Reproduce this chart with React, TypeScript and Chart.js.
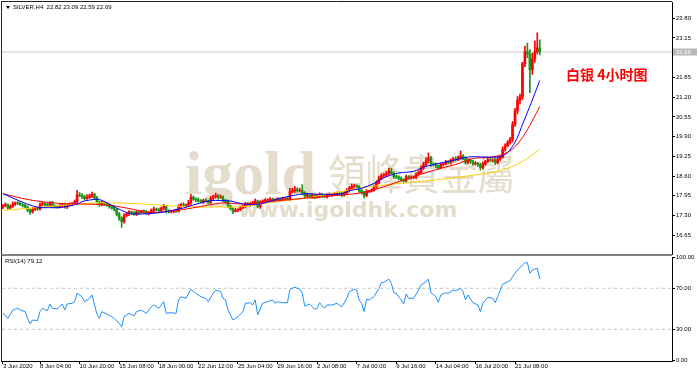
import React, { useEffect, useRef } from "react";
import { Chart, registerables } from "chart.js";

Chart.register(...registerables);

// ---------------- data (H4 bars, index 0 = first visible bar) ----------------
const firstOpen = 17.58;
const closes = [
  17.62, 17.66, 17.55, 17.60, 17.68, 17.72, 17.70, 17.66, 17.64, 17.58,
  17.48, 17.42, 17.50, 17.55, 17.52, 17.65, 17.70, 17.66, 17.64, 17.72,
  17.62, 17.60, 17.58, 17.63, 17.66, 17.58, 17.64, 17.66, 17.70, 17.76,
  17.98, 17.96, 17.92, 17.86, 17.90, 17.95, 18.00, 17.88, 17.75, 17.66,
  17.72, 17.68, 17.64, 17.60, 17.55, 17.50, 17.35, 17.22, 17.10, 17.30,
  17.36, 17.42, 17.38, 17.34, 17.42, 17.40, 17.45, 17.42, 17.38, 17.40,
  17.48, 17.52, 17.50, 17.46, 17.54, 17.60, 17.44, 17.42, 17.44, 17.46,
  17.44, 17.60, 17.66, 17.64, 17.65, 17.72, 17.90, 17.84, 17.82, 17.78,
  17.76, 17.80, 17.78, 17.74, 17.86, 17.92, 17.96, 17.90, 17.92, 17.80,
  17.76, 17.62, 17.52, 17.44, 17.48, 17.50, 17.56, 17.60, 17.68, 17.66,
  17.70, 17.72, 17.78, 17.60, 17.74, 17.78, 17.80, 17.82, 17.84, 17.80,
  17.82, 17.84, 17.83, 17.85, 17.86, 17.84, 18.08, 18.12, 18.16, 18.12,
  18.12, 18.05, 17.94, 17.98, 17.92, 17.96, 17.90, 17.94, 18.00, 17.94,
  17.92, 17.98, 17.99, 18.00, 18.02, 18.04, 18.02, 17.98, 18.04, 18.12,
  18.20, 18.26, 18.28, 18.26, 18.12, 18.06, 17.96, 18.10, 18.10, 18.14,
  18.25, 18.38, 18.52, 18.62, 18.64, 18.68, 18.76, 18.70, 18.58, 18.57,
  18.52, 18.48, 18.44, 18.58, 18.54, 18.55, 18.56, 18.66, 18.72, 18.86,
  18.98, 19.10, 19.20, 19.00, 18.98, 18.94, 18.88, 18.98, 19.00, 19.06,
  19.05, 19.10, 19.16, 19.15, 19.20, 19.26, 19.20, 19.05, 19.12, 19.08,
  19.00, 19.02, 18.98, 18.88, 19.00, 19.08, 19.14, 19.12, 19.13, 19.04,
  19.16, 19.22, 19.48, 19.60, 19.70, 19.80, 20.30, 20.75, 21.10, 21.20,
  22.30, 22.70, 22.62, 22.10, 22.45, 22.70, 22.82, 22.69,
];
// wick lengths beyond the body, in hundredths
const upperWicks = [
  4, 6, 3, 5, 7, 3, 4, 6, 3, 5,
  4, 3, 6, 5, 4, 7, 5, 3, 6, 4,
  5, 3, 4, 6, 3, 5, 4, 6, 3, 5,
  15, 8, 6, 5, 9, 6, 7, 4, 5, 3,
  6, 4, 5, 3, 4, 6, 3, 5, 4, 6,
  5, 4, 3, 6, 4, 5, 3, 4, 6, 3,
  4, 6, 3, 5, 4, 7, 3, 5, 4, 3,
  5, 6, 4, 7, 3, 8, 10, 5, 4, 6,
  5, 4, 6, 3, 7, 5, 8, 4, 6, 3,
  4, 5, 3, 4, 6, 3, 5, 4, 6, 5,
  4, 5, 7, 3, 5, 4, 6, 3, 5, 4,
  3, 5, 4, 6, 3, 5, 12, 8, 10, 6,
  8, 20, 4, 6, 3, 5, 4, 6, 5, 3,
  5, 4, 6, 3, 5, 4, 3, 6, 5, 7,
  6, 8, 5, 4, 3, 5, 4, 6, 3, 5,
  5, 7, 8, 6, 5, 7, 10, 10, 4, 5,
  4, 6, 3, 5, 4, 6, 5, 4, 6, 8,
  8, 10, 16, 5, 4, 6, 3, 5, 4, 6,
  5, 7, 6, 8, 6, 17, 5, 4, 6, 5,
  4, 6, 3, 5, 6, 4, 7, 5, 4, 6,
  6, 5, 8, 6, 7, 8, 10, 8, 12, 10,
  5, 18, 28, 15, 20, 35, 50, 27,
];
const lowerWicks = [
  5, 3, 6, 4, 3, 5, 4, 3, 6, 4,
  6, 8, 4, 3, 5, 4, 3, 6, 4, 5,
  3, 5, 4, 3, 6, 4, 5, 3, 4, 3,
  5, 4, 6, 5, 3, 4, 6, 5, 4, 6,
  4, 5, 3, 6, 4, 5, 6, 8, 19, 5,
  4, 6, 5, 3, 4, 6, 3, 5, 4, 6,
  3, 5, 4, 6, 3, 5, 6, 4, 3, 5,
  4, 3, 5, 4, 6, 3, 5, 4, 6, 3,
  4, 6, 3, 5, 4, 3, 5, 6, 4, 5,
  6, 5, 4, 8, 3, 5, 4, 3, 5, 4,
  5, 3, 4, 5, 6, 3, 4, 5, 3, 4,
  4, 3, 5, 4, 3, 4, 5, 4, 6, 5,
  4, 6, 8, 5, 4, 6, 5, 3, 6, 4,
  3, 5, 4, 6, 3, 4, 5, 6, 4, 3,
  5, 4, 6, 5, 6, 5, 8, 4, 5, 3,
  4, 5, 3, 4, 6, 5, 4, 3, 6, 5,
  5, 6, 7, 4, 5, 3, 4, 5, 3, 4,
  5, 4, 6, 8, 5, 6, 7, 4, 5, 3,
  4, 5, 3, 6, 4, 5, 6, 5, 4, 6,
  5, 4, 6, 8, 4, 5, 3, 4, 5, 6,
  4, 5, 3, 6, 4, 5, 8, 6, 10, 12,
  8, 10, 12, 75, 15, 10, 8, 10,
];

// moving averages: [bar index, value]
const blueMA = [
  [0, 18.02], [4, 17.88], [7, 17.77], [12, 17.62], [15, 17.56], [19, 17.56], [22, 17.56],
  [27, 17.62], [30, 17.68], [32, 17.76], [35, 17.81], [38, 17.84], [40, 17.80], [43, 17.68],
  [46, 17.55], [50, 17.40], [53, 17.35], [59, 17.36], [66, 17.43], [73, 17.55], [80, 17.72],
  [86, 17.80], [92, 17.78], [96, 17.70], [100, 17.66], [104, 17.68], [109, 17.80], [116, 17.94],
  [123, 18.02], [128, 18.00], [136, 18.00], [140, 18.12], [145, 18.20], [150, 18.36],
  [155, 18.58], [160, 18.70], [166, 18.76], [171, 18.92], [177, 19.03], [183, 19.14],
  [190, 19.24], [197, 19.22], [201, 19.24], [204, 19.37], [206, 19.58], [208, 19.88],
  [210, 20.30], [213, 20.90], [215, 21.32], [217, 21.75],
];
const redMA = [
  [0, 18.02], [6, 17.90], [12, 17.80], [23, 17.70], [32, 17.68], [43, 17.64], [53, 17.50],
  [59, 17.40], [66, 17.43], [73, 17.50], [80, 17.60], [90, 17.72], [96, 17.68], [109, 17.77],
  [123, 17.88], [136, 17.97], [145, 18.05], [150, 18.15], [158, 18.36], [166, 18.58],
  [177, 18.86], [183, 18.98], [190, 19.18], [197, 19.22], [202, 19.32], [206, 19.49],
  [210, 19.87], [214, 20.42], [217, 20.89],
];
const yellowMA = [
  [0, 17.47], [12, 17.55], [26, 17.65], [39, 17.72], [53, 17.70], [66, 17.63], [80, 17.58],
  [93, 17.58], [100, 17.62], [109, 17.74], [123, 17.88], [136, 18.08], [150, 18.27],
  [163, 18.38], [177, 18.49], [190, 18.63], [197, 18.71], [202, 18.80], [209, 19.04],
  [213, 19.24], [217, 19.49],
];
const rsi14 = [
  [0, 46], [2, 40.7], [4, 48.8], [6, 50.5], [7, 48.8], [9, 47.2], [10, 40.7], [11, 35.2],
  [12, 39.1], [14, 38.4], [15, 47.2], [16, 50.5], [18, 48.1], [19, 54.7], [20, 50.5],
  [22, 49.8], [24, 54.7], [25, 48.8], [26, 54.7], [28, 55.4], [29, 56.9], [30, 65.1],
  [32, 61.8], [33, 56.9], [35, 60.2], [36, 63.5], [37, 54], [38, 45], [39, 40.7], [40, 47.2],
  [42, 44.9], [44, 42.3], [45, 40.7], [47, 35.9], [48, 32.6], [49, 42.3], [51, 45.6],
  [53, 43.0], [54, 47.2], [56, 48.8], [58, 45.6], [60, 52.0], [61, 53.7], [63, 50.5],
  [65, 56.9], [66, 45.6], [68, 46.2], [70, 45.6], [71, 58.6], [72, 61.8], [74, 60.2],
  [76, 69.0], [78, 65.1], [80, 61.8], [82, 60.2], [83, 56.9], [85, 65.1], [86, 68.3],
  [88, 66.7], [89, 60.2], [90, 58.6], [91, 48.8], [92, 44.0], [93, 39.1], [94, 40.7],
  [95, 42.3], [97, 47.2], [98, 55.4], [100, 55.9], [101, 53.7], [102, 58.6], [103, 44.0],
  [105, 55.4], [107, 56.9], [109, 58.6], [110, 55.4], [111, 56.9], [113, 55.9], [115, 55.9],
  [116, 69.0], [118, 71.0], [120, 69.0], [121, 65.1], [122, 52.7], [124, 54.7], [126, 49.5],
  [127, 50.5], [128, 55.9], [130, 50.5], [131, 53.7], [133, 53.7], [135, 55.4], [137, 52.0],
  [139, 60.2], [140, 66.7], [142, 69.0], [143, 68.3], [144, 58.6], [145, 55.4], [146, 47.2],
  [147, 59.3], [148, 58.6], [149, 60.2], [150, 61.8], [152, 70.0], [153, 75.4], [154, 75.8],
  [156, 79.0], [157, 74.9], [158, 65.7], [159, 65.1], [161, 58.6], [162, 54.7], [163, 64.4],
  [164, 60.2], [166, 60.2], [168, 68.3], [169, 73.2], [171, 76.4], [172, 79.0], [173, 65.7],
  [175, 61.8], [176, 56.3], [177, 63.5], [179, 65.7], [180, 65.1], [182, 68.3], [183, 67.6],
  [185, 70.0], [186, 66.7], [187, 58.6], [188, 63.5], [190, 55.9], [192, 53.7], [193, 47.2],
  [194, 55.4], [196, 61.2], [198, 60.2], [199, 55.9], [200, 61.8], [202, 73.9], [204, 76.4],
  [205, 77.4], [207, 84.6], [208, 87.8], [210, 92.7], [211, 94.9], [212, 94.9], [213, 84.6],
  [214, 87.8], [216, 89.5], [217, 79.12],
];
const rsiLevels = [70, 30];

const priceTicks = [16.65, 17.30, 17.95, 18.60, 19.25, 19.90, 20.55, 21.20, 21.85, 23.15, 23.80];
const rsiTicks = [0, 30, 70, 100];
const timeTickBars = [0, 15, 31, 47, 63, 79, 95, 111, 127, 143, 159, 175, 191, 207];
const timeTickLabels = [
  "3 Jun 2020", "8 Jun 04:00", "10 Jun 20:00", "15 Jun 08:00", "18 Jun 00:00",
  "22 Jun 12:00", "25 Jun 04:00", "29 Jun 16:00", "2 Jul 08:00", "7 Jul 00:00",
  "9 Jul 16:00", "14 Jul 04:00", "16 Jul 20:00", "21 Jul 08:00",
];
const headerText = "SILVER,H4  22.82 23.09 22.59 22.69";
const rsiText = "RSI(14) 79.12";
const titleText = "白银 4小时图";
const watermarkTexts = ["igold", "領峰貴金屬", "www.igoldhk.com"];

// ---------------- view settings ----------------
const X_MIN = -0.36;
const X_MAX = 270.45;
const P_MIN = 16.034;
const P_MAX = 24.334;
const R_MIN = -0.9;
const R_MAX = 100.5;
const UP = "#ff0000";
const DOWN = "#1a961a";
const SMALL = '6px "Liberation Sans"';
const WM = "#e4ddcc";

const opens = closes.map((c, i) => (i === 0 ? firstOpen : closes[i - 1]));
const highs = closes.map((c, i) => Math.max(opens[i], c) + upperWicks[i] / 100);
const lows = closes.map((c, i) => Math.min(opens[i], c) - lowerWicks[i] / 100);
const candleColors = closes.map((c, i) => (c >= opens[i] ? UP : DOWN));
const bodies = closes.map((c, i) => {
  const lo = Math.min(opens[i], c);
  const hi = Math.max(opens[i], c);
  return { x: i, y: [lo, hi - lo < 0.006 ? lo + 0.006 : hi] };
});
const wicks = closes.map((c, i) => ({ x: i, y: [lows[i], highs[i]] }));
const toPts = (a: number[][]) => a.map(([x, y]) => ({ x, y }));

const mainDecor = {
  id: "mainDecor",
  beforeDatasetsDraw(chart: any) {
    const ctx = chart.ctx;
    ctx.save();
    ctx.fillStyle = WM;
    ctx.textBaseline = "alphabetic";
    ctx.font = 'bold 62px "Liberation Serif"';
    ctx.fillText(watermarkTexts[0], 185, 194);
    ctx.save();
    ctx.translate(328, 190);
    ctx.scale(0.89, 1);
    ctx.font = '42px "Noto Sans CJK TC"';
    ctx.fillText(watermarkTexts[1], 0, 0);
    ctx.restore();
    ctx.font = 'bold 22px "DejaVu Sans"';
    ctx.fillText(watermarkTexts[2], 238, 217);
    ctx.restore();
  },
  afterDraw(chart: any) {
    const ctx = chart.ctx;
    const { left, top, right, bottom } = chart.chartArea;
    ctx.save();
    ctx.strokeStyle = "#222";
    ctx.lineWidth = 1;
    ctx.beginPath();
    ctx.moveTo(left - 0.5, top - 0.5);
    ctx.lineTo(right, top - 0.5);
    ctx.moveTo(left - 0.5, top - 1);
    ctx.lineTo(left - 0.5, bottom + 2);
    ctx.stroke();
    ctx.fillStyle = "#808080";
    ctx.fillRect(left - 1, bottom, right - left + 1, 2);
    // current price label
    const last = closes[closes.length - 1];
    const y = chart.scales.y.getPixelForValue(last);
    ctx.fillStyle = "#b8b8b8";
    ctx.fillRect(right + 1, Math.round(y) - 3.5, 24, 7);
    ctx.fillStyle = "#ffffff";
    ctx.font = SMALL;
    ctx.textBaseline = "middle";
    ctx.fillText(last.toFixed(2), right + 4, y);
    // header
    ctx.fillStyle = "#000";
    ctx.beginPath();
    ctx.moveTo(6, 6);
    ctx.lineTo(10, 6);
    ctx.lineTo(8, 9);
    ctx.closePath();
    ctx.fill();
    ctx.fillText(headerText, 13, 7.5);
    // title
    ctx.fillStyle = "#ff0000";
    ctx.font = 'bold 14px "Noto Sans CJK SC"';
    ctx.fillText(titleText, 566, 75);
    ctx.restore();
  },
};

const rsiDecor = {
  id: "rsiDecor",
  afterDraw(chart: any) {
    const ctx = chart.ctx;
    const { left, top, bottom } = chart.chartArea;
    ctx.save();
    ctx.strokeStyle = "#222";
    ctx.beginPath();
    ctx.moveTo(left - 0.5, top - 2);
    ctx.lineTo(left - 0.5, bottom + 1);
    ctx.stroke();
    ctx.fillStyle = "#000";
    ctx.font = SMALL;
    ctx.textBaseline = "middle";
    ctx.fillText(rsiText, 5, top + 4);
    ctx.restore();
  },
};

export default function App() {
  const mainRef = useRef<HTMLCanvasElement>(null);
  const rsiRef = useRef<HTMLCanvasElement>(null);

  useEffect(() => {
    document.body.style.margin = "0";
    const lineDs = (data: any[], color: string, order: number, extra: any = {}) => ({
      type: "line",
      data,
      borderColor: color,
      borderWidth: 1,
      pointRadius: 0,
      fill: false,
      order,
      ...extra,
    });
    const last = closes[closes.length - 1];

    const main = new Chart(mainRef.current as HTMLCanvasElement, {
      type: "bar",
      data: {
        datasets: [
          lineDs([{ x: X_MIN, y: last }, { x: X_MAX, y: last }], "#c8c8c8", 6),
          {
            type: "bar",
            data: wicks,
            backgroundColor: candleColors,
            barThickness: 1,
            grouped: false,
            order: 5,
          },
          {
            type: "bar",
            data: bodies,
            backgroundColor: candleColors,
            barThickness: 2,
            grouped: false,
            order: 4,
          },
          lineDs(toPts(yellowMA), "#ffd200", 3, { cubicInterpolationMode: "monotone" }),
          lineDs(toPts(redMA), "#ff0000", 2, { cubicInterpolationMode: "monotone" }),
          lineDs(toPts(blueMA), "#0000ff", 1, { cubicInterpolationMode: "monotone" }),
        ] as any,
      },
      options: {
        animation: false,
        responsive: false,
        maintainAspectRatio: false,
        events: [],
        layout: { padding: { left: 2, top: 2, right: 0, bottom: 2 } },
        plugins: { legend: { display: false }, tooltip: { enabled: false } },
        scales: {
          x: { type: "linear", min: X_MIN, max: X_MAX, display: false, offset: false },
          y: {
            position: "right",
            min: P_MIN,
            max: P_MAX,
            afterFit: (s: any) => {
              s.width = 28;
              s.paddingTop = 0;
              s.paddingBottom = 0;
            },
            afterBuildTicks: (s: any) => {
              s.ticks = priceTicks.map((v) => ({ value: v }));
            },
            ticks: {
              autoSkip: false,
              padding: 1,
              color: "#000",
              font: { family: "Liberation Sans", size: 6 },
              callback: (v: any) => Number(v).toFixed(2),
            },
            grid: { drawOnChartArea: false, drawTicks: true, tickLength: 3, tickColor: "#000" },
            border: { display: true, color: "#000" },
          },
        },
      } as any,
      plugins: [mainDecor],
    });

    const rsi = new Chart(rsiRef.current as HTMLCanvasElement, {
      type: "line",
      data: {
        datasets: [
          ...rsiLevels.map((lv) =>
            lineDs([{ x: X_MIN, y: lv }, { x: X_MAX, y: lv }], "#c4c4c4", 2, { borderDash: [3, 3] })
          ),
          lineDs(toPts(rsi14), "#1e90ff", 1),
        ] as any,
      },
      options: {
        animation: false,
        responsive: false,
        maintainAspectRatio: false,
        events: [],
        layout: { padding: { left: 2, top: 11, right: 0, bottom: 0 } },
        plugins: { legend: { display: false }, tooltip: { enabled: false } },
        scales: {
          x: {
            type: "linear",
            min: X_MIN,
            max: X_MAX,
            position: "bottom",
            offset: false,
            afterFit: (s: any) => {
              s.height = 13;
              s.paddingLeft = 0;
              s.paddingRight = 0;
            },
            afterBuildTicks: (s: any) => {
              s.ticks = timeTickBars.map((v) => ({ value: v }));
            },
            ticks: {
              align: "start",
              autoSkip: false,
              maxRotation: 0,
              minRotation: 0,
              padding: -1,
              color: "#000",
              font: { family: "Liberation Sans", size: 6 },
              callback: (v: any, i: number) => timeTickLabels[i],
            },
            grid: { drawOnChartArea: false, drawTicks: true, tickLength: 3, tickColor: "#000" },
            border: { display: true, color: "#000" },
          },
          y: {
            position: "right",
            min: R_MIN,
            max: R_MAX,
            afterFit: (s: any) => {
              s.width = 28;
              s.paddingTop = 0;
              s.paddingBottom = 0;
            },
            afterBuildTicks: (s: any) => {
              s.ticks = rsiTicks.map((v) => ({ value: v }));
            },
            ticks: {
              autoSkip: false,
              padding: 1,
              color: "#000",
              font: { family: "Liberation Sans", size: 6 },
              callback: (v: any) => Number(v).toFixed(2),
            },
            grid: { drawOnChartArea: false, drawTicks: true, tickLength: 3, tickColor: "#000" },
            border: { display: true, color: "#000" },
          },
        },
      } as any,
      plugins: [rsiDecor],
    });

    return () => {
      main.destroy();
      rsi.destroy();
    };
  }, []);

  return (
    <div style={{ position: "relative", width: 700, height: 374, background: "#fff", overflow: "hidden" }}>
      <canvas
        ref={mainRef}
        width={700}
        height={256}
        style={{ position: "absolute", left: 0, top: 0, width: 700, height: 256 }}
      />
      <canvas
        ref={rsiRef}
        width={700}
        height={128}
        style={{ position: "absolute", left: 0, top: 246, width: 700, height: 128 }}
      />
    </div>
  );
}
